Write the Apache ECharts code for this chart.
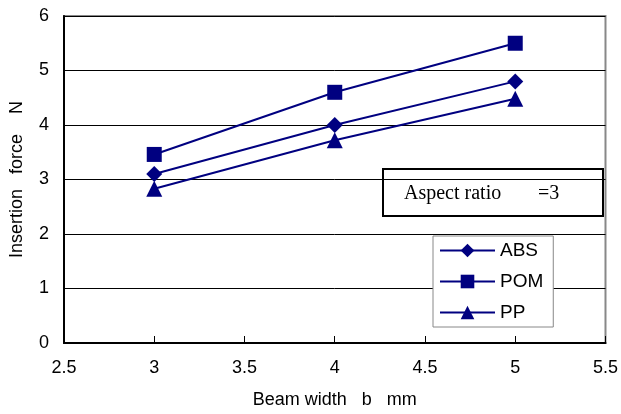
<!DOCTYPE html>
<html>
<head>
<meta charset="utf-8">
<script src="https://cdn.jsdelivr.net/npm/echarts@6/dist/echarts.min.js"></script>
<style>html,body{margin:0;padding:0;background:#fff;}#c{width:621px;height:414px;}</style>
</head>
<body>
<div id="c"></div>
<script>
const beamWidth = [3, 4, 5];
const absForce = [3.1, 4.0, 4.8];
const pomForce = [3.46, 4.6, 5.5];
const ppForce = [2.83, 3.72, 4.48];
const xTicks = [2.5, 3, 3.5, 4, 4.5, 5, 5.5];
const yTicks = [0, 1, 2, 3, 4, 5, 6];

const navy = '#000080';
const font = 'Liberation Sans, Arial, sans-serif';

function mk(name, vals, symbol) {
  return {
    name: name,
    type: 'line',
    data: beamWidth.map((x, i) => [x, vals[i]]),
    symbol: symbol,
    symbolSize: symbol === 'rect' ? 15 : 16,
    showSymbol: true,
    lineStyle: { color: navy, width: 2 },
    itemStyle: { color: navy },
    animation: false
  };
}

const chart = echarts.init(document.getElementById('c'), null, { renderer: 'canvas' });
chart.setOption({
  animation: false,
  backgroundColor: '#fff',
  grid: {
    left: 62, right: 14, top: 16, bottom: 71,
    show: true, borderColor: '#888', borderWidth: 2, backgroundColor: 'transparent'
  },
  xAxis: {
    type: 'value', min: 2.5, max: 5.5, interval: 0.5,
    name: 'Beam width   b   mm', nameLocation: 'middle', nameGap: 48,
    nameTextStyle: { fontFamily: font, fontSize: 18, color: '#000' },
    axisLine: { lineStyle: { color: '#000', width: 2 } },
    axisTick: { inside: true, length: 7, lineStyle: { color: '#000' } },
    axisLabel: { fontFamily: font, fontSize: 18, color: '#000', margin: 16,
      formatter: v => String(v) },
    splitLine: { show: false }
  },
  yAxis: {
    type: 'value', min: 0, max: 6, interval: 1,
    name: 'Insertion   force    N', nameLocation: 'middle', nameGap: 38,
    nameTextStyle: { fontFamily: font, fontSize: 18, color: '#000' },
    axisLine: { show: true, lineStyle: { color: '#000', width: 2 } },
    axisTick: { show: true, inside: true, length: 7, lineStyle: { color: '#000' } },
    axisLabel: { fontFamily: font, fontSize: 18, color: '#000', margin: 15 },
    splitLine: { show: true, lineStyle: { color: '#000', width: 1 } }
  },
  legend: {
    orient: 'vertical', left: 433, top: 236,
    width: 119,
    backgroundColor: '#fff', borderColor: '#888', borderWidth: 1,
    padding: [5, 10, 5, 6],
    itemWidth: 55, itemHeight: 17, itemGap: 12,
    textStyle: { fontFamily: font, fontSize: 19, color: '#000' },
    data: ['ABS', 'POM', 'PP']
  },
  graphic: [{
    type: 'group', left: 382, top: 168,
    children: [
      { type: 'rect', shape: { x: 0, y: 0, width: 220, height: 47 },
        style: { fill: '#fff', stroke: '#000', lineWidth: 2 } },
      { type: 'text', x: 21, y: 25,
        style: { text: 'Aspect ratio', font: '20px "Liberation Serif", "Times New Roman", serif',
          fill: '#000', verticalAlign: 'middle' } },
      { type: 'text', x: 155, y: 25,
        style: { text: '=3', font: '20px "Liberation Serif", "Times New Roman", serif',
          fill: '#000', verticalAlign: 'middle' } }
    ]
  }],
  series: [
    mk('ABS', absForce, 'diamond'),
    mk('POM', pomForce, 'rect'),
    mk('PP', ppForce, 'triangle')
  ]
});
</script>
</body>
</html>
